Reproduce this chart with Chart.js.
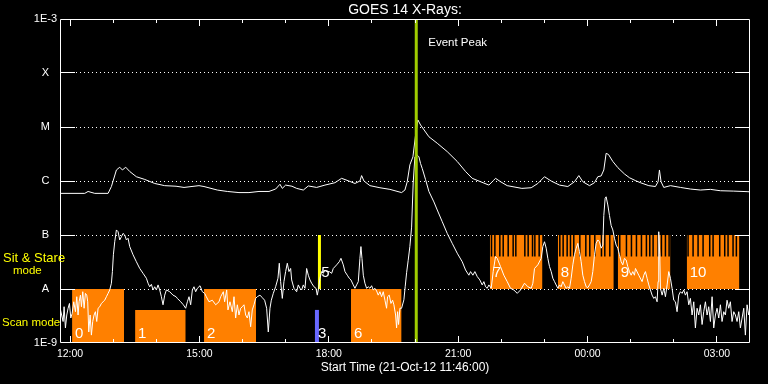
<!DOCTYPE html>
<html>
<head>
<meta charset="utf-8">
<script src="https://cdn.jsdelivr.net/npm/chart.js@4"></script>
<style>
  html, body { margin: 0; padding: 0; background: #000; }
</style>
</head>
<body>
<canvas id="goes" width="768" height="384"></canvas>
<script>
// GOES 14 X-RAYS ----------------------------------------
// times are decimal hours from 21-Oct-12 00:00 (values past 24 are the next day)
var tStart = 11.767;
var tEnd = 27.767;
var hourTicks = [12, 13, 14, 15, 16, 17, 18, 19, 20, 21, 22, 23, 24, 25, 26, 27];
var fluxTicks = [1e-9, 1e-8, 1e-7, 1e-6, 1e-5, 1e-4, 1e-3];
var fluxLabels = ['1E-9', 'A', 'B', 'C', 'M', 'X', '1E-3'];

// 1-8 A channel (upper curve)
var longTime = [
  11.77, 12.341, 12.418, 12.573, 12.882, 12.959, 13.075, 13.152, 13.214, 13.291,
  13.384, 13.538, 13.731, 13.963, 14.195, 14.458, 14.643, 14.990, 15.106, 15.415,
  15.647, 15.917, 16.149, 16.381, 16.613, 16.767, 16.868, 16.922, 16.999, 17.146,
  17.254, 17.409, 17.525, 17.718, 17.911, 18.143, 18.297, 18.452, 18.606, 18.722,
  18.761, 18.815, 18.954, 19.186, 19.417, 19.688, 19.765, 19.819, 19.881, 19.951,
  20.012, 20.066, 20.128, 20.321, 20.515, 20.746, 20.978, 21.171, 21.326, 21.519,
  21.712, 21.812, 21.866, 21.982, 22.137, 22.477, 22.693, 22.847, 23.002, 23.156,
  23.350, 23.543, 23.697, 23.798, 23.890, 24.045, 24.161, 24.238, 24.315, 24.377,
  24.431, 24.485, 24.586, 24.702, 24.856, 24.972, 25.119, 25.226, 25.420, 25.574,
  25.636, 25.667, 25.705, 25.767, 25.922, 26.154, 26.385, 26.617, 26.849, 27.080,
  27.390, 27.699, 27.767
];
var longFlux = [
  5.9e-7, 5.9e-7, 6.4e-7, 5.9e-7, 5.9e-7, 7.9e-7, 1.6e-6, 1.8e-6, 1.6e-6, 1.8e-6,
  1.5e-6, 1.2e-6, 1.07e-6, 9.0e-7, 8.2e-7, 8.0e-7, 7.6e-7, 8.2e-7, 7.9e-7, 6.8e-7,
  6.4e-7, 6.1e-7, 6.1e-7, 6.4e-7, 6.4e-7, 7.1e-7, 8.7e-7, 7.3e-7, 8.4e-7, 8.0e-7,
  7.3e-7, 6.8e-7, 8.1e-7, 7.6e-7, 8.4e-7, 9.3e-7, 1.12e-6, 1.01e-6, 9.0e-7, 1.0e-6,
  1.26e-6, 1.0e-6, 8.2e-7, 7.5e-7, 7.0e-7, 6.1e-7, 6.8e-7, 9.7e-7, 2.0e-6, 2.8e-6,
  7.1e-6, 1.35e-5, 1.09e-5, 6.6e-6, 5.0e-6, 3.5e-6, 2.3e-6, 1.5e-6, 1.12e-6, 9.7e-7,
  8.4e-7, 1.01e-6, 1.12e-6, 9.7e-7, 8.2e-7, 7.3e-7, 7.5e-7, 9.0e-7, 1.2e-6, 1.0e-6,
  8.4e-7, 7.9e-7, 9.7e-7, 1.26e-6, 9.7e-7, 8.2e-7, 9.3e-7, 1.2e-6, 1.24e-6, 1.6e-6,
  3.25e-6, 3.1e-6, 2.3e-6, 1.77e-6, 1.35e-6, 1.15e-6, 1.01e-6, 9.3e-7, 8.2e-7, 7.9e-7,
  9.7e-7, 1.6e-6, 9.7e-7, 7.6e-7, 8.2e-7, 7.6e-7, 7.1e-7, 6.8e-7, 7.0e-7, 6.6e-7,
  6.5e-7, 6.35e-7, 6.3e-7
];

// 0.5-4 A channel (lower curve)
var shortTime = [
  11.77, 11.839, 11.862, 11.893, 11.924, 11.955, 11.986, 12.017, 12.047, 12.086,
  12.125, 12.156, 12.186, 12.210, 12.241, 12.264, 12.295, 12.326, 12.356, 12.387,
  12.410, 12.434, 12.465, 12.495, 12.526, 12.557, 12.588, 12.619, 12.650, 12.689,
  12.727, 12.766, 12.804, 12.843, 12.882, 12.920, 12.959, 12.982, 13.005, 13.036,
  13.075, 13.114, 13.152, 13.191, 13.229, 13.268, 13.307, 13.345, 13.384, 13.461,
  13.538, 13.616, 13.693, 13.770, 13.809, 13.847, 13.886, 13.925, 13.963, 14.002,
  14.041, 14.079, 14.118, 14.156, 14.195, 14.234, 14.311, 14.388, 14.458, 14.488,
  14.566, 14.627, 14.681, 14.720, 14.759, 14.797, 14.836, 14.874, 14.913, 14.952,
  15.014, 15.068, 15.122, 15.160, 15.222, 15.299, 15.377, 15.454, 15.493, 15.554,
  15.585, 15.632, 15.662, 15.709, 15.763, 15.802, 15.840, 15.879, 15.917, 15.956,
  15.995, 16.033, 16.072, 16.111, 16.149, 16.188, 16.226, 16.265, 16.304, 16.342,
  16.404, 16.458, 16.512, 16.559, 16.597, 16.636, 16.667, 16.713, 16.767, 16.821,
  16.852, 16.883, 16.922, 16.960, 16.999, 17.038, 17.076, 17.115, 17.139, 17.193,
  17.254, 17.293, 17.332, 17.370, 17.409, 17.448, 17.486, 17.525, 17.564, 17.602,
  17.656, 17.703, 17.733, 17.764, 17.795, 17.834, 17.872, 17.911, 17.950, 18.012,
  18.066, 18.104, 18.182, 18.243, 18.282, 18.336, 18.375, 18.429, 18.475, 18.514,
  18.568, 18.606, 18.645, 18.684, 18.722, 18.745, 18.769, 18.800, 18.838, 18.877,
  18.915, 18.954, 18.993, 19.031, 19.070, 19.109, 19.147, 19.186, 19.224, 19.263,
  19.302, 19.340, 19.363, 19.402, 19.441, 19.479, 19.510, 19.549, 19.572, 19.595,
  19.618, 19.649, 19.688, 19.741, 19.771, 19.804, 19.841, 19.880, 19.920, 19.957,
  19.996, 20.054, 20.090, 20.128, 20.167, 20.244, 20.321, 20.437, 20.515, 20.630,
  20.746, 20.862, 20.978, 21.094, 21.171, 21.248, 21.287, 21.341, 21.387, 21.442,
  21.503, 21.557, 21.596, 21.635, 21.673, 21.712, 21.766, 21.812, 21.866, 21.905,
  21.982, 22.059, 22.137, 22.214, 22.291, 22.369, 22.446, 22.538, 22.616, 22.693,
  22.732, 22.770, 22.847, 22.925, 22.963, 23.002, 23.041, 23.079, 23.118, 23.157,
  23.195, 23.234, 23.311, 23.350, 23.388, 23.427, 23.504, 23.543, 23.581, 23.620,
  23.659, 23.697, 23.736, 23.775, 23.813, 23.852, 23.890, 23.929, 23.968, 24.006,
  24.045, 24.084, 24.122, 24.161, 24.199, 24.238, 24.277, 24.315, 24.354, 24.377,
  24.408, 24.431, 24.470, 24.508, 24.547, 24.586, 24.624, 24.663, 24.702, 24.740,
  24.779, 24.817, 24.856, 24.895, 24.933, 24.972, 25.011, 25.049, 25.088, 25.111,
  25.188, 25.265, 25.304, 25.342, 25.381, 25.420, 25.497, 25.536, 25.574, 25.613,
  25.636, 25.651, 25.675, 25.690, 25.729, 25.767, 25.806, 25.845, 25.883, 25.922,
  25.960, 25.999, 26.038, 26.076, 26.115, 26.154, 26.192, 26.231, 26.269, 26.308,
  26.347, 26.385, 26.424, 26.463, 26.501, 26.540, 26.578, 26.617, 26.656, 26.694,
  26.733, 26.772, 26.810, 26.849, 26.888, 26.926, 26.965, 27.003, 27.042, 27.081,
  27.119, 27.158, 27.196, 27.235, 27.274, 27.312, 27.351, 27.390, 27.428, 27.467,
  27.506, 27.544, 27.583, 27.622, 27.660, 27.699, 27.737, 27.767
];
var shortFlux = [
  4.4e-9, 2.5e-9, 4.7e-9, 1.9e-9, 3.3e-9, 4.4e-9, 5.4e-9, 2.9e-9, 3.5e-9, 5.8e-9,
  3.8e-9, 7.2e-9, 3.3e-9, 5.8e-9, 7.7e-9, 4.7e-9, 8.9e-9, 4.4e-9, 8.3e-9, 7.7e-9,
  5.8e-9, 1.6e-9, 3.3e-9, 1.4e-9, 2.5e-9, 3.3e-9, 3.8e-9, 2.5e-9, 4.4e-9, 4.7e-9,
  5.4e-9, 5.8e-9, 6.2e-9, 7.2e-9, 8.3e-9, 9.6e-9, 1.28e-8, 2.1e-8, 4.3e-8, 7.5e-8,
  1.24e-7, 1.15e-7, 8.1e-8, 9.3e-8, 1.07e-7, 1.0e-7, 8.1e-8, 8.7e-8, 6.1e-8, 4.3e-8,
  3.2e-8, 2.4e-8, 1.95e-8, 1.58e-8, 1.28e-8, 1.1e-8, 1.22e-8, 9.6e-9, 1.1e-8, 9.6e-9,
  1.19e-8, 9.6e-9, 7.2e-9, 5.1e-9, 7.7e-9, 9.6e-9, 8.9e-9, 7.7e-9, 7.2e-9, 6.7e-9,
  5.8e-9, 5.1e-9, 4.4e-9, 5.8e-9, 7.2e-9, 5.1e-9, 9.6e-9, 1.1e-8, 8.9e-9, 1.03e-8,
  1.15e-8, 8.9e-9, 8.3e-9, 7.2e-9, 5.8e-9, 6.2e-9, 5.1e-9, 5.8e-9, 7.2e-9, 8.9e-9,
  5.8e-9, 9.6e-9, 4.1e-9, 5.8e-9, 3.8e-9, 7.2e-9, 2.9e-9, 5.1e-9, 3.3e-9, 4.4e-9,
  4.7e-9, 5.1e-9, 3.3e-9, 2.9e-9, 3.8e-9, 2.0e-9, 4.1e-9, 5.1e-9, 6.7e-9, 7.2e-9,
  7.7e-9, 6.9e-9, 6.2e-9, 4.4e-9, 1.6e-9, 4.4e-9, 6.2e-9, 8.3e-9, 1.1e-8, 1.58e-8,
  3.0e-8, 1.37e-8, 6.7e-9, 1.37e-8, 2.1e-8, 3.0e-8, 2.1e-8, 2.4e-8, 1.47e-8, 1.03e-8,
  8.9e-9, 1.19e-8, 1.03e-8, 9.6e-9, 1.19e-8, 1.03e-8, 2.4e-8, 1.8e-8, 1.47e-8, 1.28e-8,
  1.1e-8, 1.03e-8, 7.7e-9, 1.03e-8, 1.58e-8, 2.1e-8, 1.95e-8, 2.25e-8, 2.1e-8, 2.1e-8,
  1.95e-8, 2.4e-8, 2.8e-8, 3.2e-8, 3.7e-8, 2.8e-8, 2.1e-8, 1.8e-8, 1.58e-8, 1.47e-8,
  1.19e-8, 1.03e-8, 1.19e-8, 1.37e-8, 3.7e-8, 6.1e-8, 3.7e-8, 1.8e-8, 1.28e-8, 1.03e-8,
  1.1e-8, 1.03e-8, 1.15e-8, 9.6e-9, 1.03e-8, 9.2e-9, 7.7e-9, 8.9e-9, 7.2e-9, 8.9e-9,
  6.2e-9, 4.4e-9, 7.2e-9, 7.7e-9, 5.4e-9, 6.2e-9, 5.1e-9, 3.3e-9, 1.9e-9, 3.8e-9,
  2.2e-9, 4.4e-9, 4.4e-9, 6.3e-9, 1.1e-8, 2.0e-8, 3.4e-8, 6.1e-8, 1.4e-7, 9.2e-7,
  2.8e-6, 3.0e-6, 2.8e-6, 2.1e-6, 1.7e-6, 1.06e-6, 6.4e-7, 4.1e-7, 2.9e-7, 1.77e-7,
  1.07e-7, 7.0e-8, 4.6e-8, 3.2e-8, 2.25e-8, 1.8e-8, 2.1e-8, 1.8e-8, 2.1e-8, 1.7e-8,
  1.47e-8, 1.19e-8, 1.37e-8, 1.1e-8, 1.03e-8, 1.19e-8, 1.03e-8, 2.1e-8, 4.0e-8, 3.7e-8,
  2.6e-8, 1.8e-8, 1.37e-8, 1.03e-8, 9.6e-9, 8.3e-9, 9.6e-9, 1.28e-8, 1.1e-8, 1.03e-8,
  1.28e-8, 2.4e-8, 2.8e-8, 3.7e-8, 6.1e-8, 7.5e-8, 5.7e-8, 3.7e-8, 2.6e-8, 2.1e-8,
  1.58e-8, 1.37e-8, 1.03e-8, 1.19e-8, 1.1e-8, 1.37e-8, 1.03e-8, 1.1e-8, 1.03e-8, 1.58e-8,
  2.8e-8, 4.3e-8, 5.7e-8, 7.0e-8, 4.9e-8, 3.2e-8, 1.8e-8, 1.37e-8, 1.1e-8, 1.06e-8,
  1.19e-8, 1.37e-8, 2.1e-8, 4.3e-8, 7.0e-8, 8.1e-8, 7.5e-8, 5.7e-8, 6.5e-8, 2.3e-7,
  4.8e-7, 5.1e-7, 3.6e-7, 2.3e-7, 1.5e-7, 1.24e-7, 8.7e-8, 6.5e-8, 5.7e-8, 4.3e-8,
  3.2e-8, 2.8e-8, 3.7e-8, 3.45e-8, 2.6e-8, 2.1e-8, 1.8e-8, 2.1e-8, 1.8e-8, 2.4e-8,
  1.8e-8, 1.37e-8, 1.8e-8, 2.1e-8, 1.58e-8, 1.19e-8, 7.7e-9, 6.7e-9, 7.2e-9, 5.8e-9,
  1.37e-8, 1.15e-7, 4.3e-8, 1.03e-8, 7.7e-9, 1.03e-8, 7.2e-9, 1.19e-8, 2.1e-8, 1.58e-8,
  1.03e-8, 6.2e-9, 5.8e-9, 3.8e-9, 7.7e-9, 8.9e-9, 8.3e-9, 9.6e-9, 7.7e-9, 8.9e-9,
  5.1e-9, 6.7e-9, 3.3e-9, 5.8e-9, 1.9e-9, 4.4e-9, 3.3e-9, 5.1e-9, 2.2e-9, 3.8e-9,
  5.8e-9, 3.3e-9, 4.7e-9, 2.5e-9, 7.2e-9, 1.9e-9, 3.3e-9, 4.4e-9, 2.9e-9, 5.1e-9,
  2.5e-9, 3.8e-9, 3.3e-9, 6.2e-9, 4.4e-9, 5.8e-9, 2.5e-9, 3.8e-9, 3.3e-9, 2.5e-9,
  3.8e-9, 1.9e-9, 2.9e-9, 4.4e-9, 1.4e-9, 5.1e-9, 3.3e-9, 4.4e-9
];

// scan mode blocks (orange, from 1E-9 up)
var scanStart = [12.048, 13.508, 15.107, 18.514];
var scanEnd = [13.253, 14.682, 16.312, 19.688];
var scanTop = [1e-8, 4.1e-9, 1e-8, 1e-8];
// sit & stare blocks (orange, A to B) and the black exposure marks in them
var stareStart = [21.735, 23.311, 24.701, 26.300];
var stareEnd = [22.955, 24.608, 25.922, 27.521];
var stareMarks = [
  21.773, 21.851, 21.966, 22.044, 22.160, 22.275, 22.337, 22.546, 22.623, 22.724, 22.778, 22.878,
  23.357, 23.434, 23.527, 23.604, 23.681, 23.821, 23.960, 24.052, 24.168, 24.323, 24.400, 24.516,
  24.747, 24.902, 25.018, 25.134, 25.250, 25.365, 25.443, 25.520, 25.636, 25.713, 25.806, 25.891,
  26.331, 26.447, 26.563, 26.679, 26.833, 26.911, 27.065, 27.181, 27.258, 27.374, 27.451
];
var markBottom = 4e-8;
// single short rasters: 3 (scan, blue) and 5 (sit & stare, yellow)
var raster3Time = 17.725;
var raster3Top = 4.1e-9;
var raster5Time = 17.783;
var eventPeakTime = 20.028;

var blockLabels = ['0', '1', '2', '3', '5', '6', '7', '8', '9', '10'];
var blockLabelTime = [12.048, 13.508, 15.107, 17.679, 17.756, 18.514, 21.735, 23.311, 24.701, 26.300];
var blockLabelFlux = [1.5e-9, 1.5e-9, 1.5e-9, 1.5e-9, 2e-8, 1.5e-9, 2e-8, 2e-8, 2e-8, 2e-8];

var ORANGE = '#ff8000';
var FONT = "'Liberation Sans', Arial, sans-serif";

function pts(t, f) {
  return t.map(function (v, i) { return { x: v, y: f[i] }; });
}
function block(s, e, lo, hi, col) {
  return {
    data: [{ x: s, y: hi }, { x: e, y: hi }],
    fill: { value: lo },
    backgroundColor: col,
    borderColor: 'rgba(0,0,0,0)',
    borderWidth: 0,
    order: 6
  };
}
function hh(v) {
  var h = v % 24;
  return (h < 10 ? '0' : '') + h + ':00';
}

var datasets = [];
scanStart.forEach(function (s, i) {
  datasets.push(block(s, scanEnd[i], 1e-9, scanTop[i], ORANGE));
});
stareStart.forEach(function (s, i) {
  datasets.push(block(s, stareEnd[i], 1e-8, 1e-7, ORANGE));
});
var markPts = [];
stareMarks.forEach(function (t) {
  markPts.push({ x: t, y: 1e-7 }, { x: t, y: markBottom }, { x: t, y: null });
});
datasets.push({ data: markPts, borderColor: '#000', borderWidth: 1.5, order: 5 });
datasets.push({ data: [{ x: raster3Time, y: 1e-9 }, { x: raster3Time, y: raster3Top }], borderColor: '#6868ff', borderWidth: 4, order: 4 });
datasets.push({ data: [{ x: raster5Time, y: 1e-8 }, { x: raster5Time, y: 1e-7 }], borderColor: '#ffff00', borderWidth: 3, order: 4 });
datasets.push({ data: pts(longTime, longFlux), borderColor: '#fff', borderWidth: 1, order: 2 });
datasets.push({ data: pts(shortTime, shortFlux), borderColor: '#fff', borderWidth: 1, order: 2 });
datasets.push({ data: [{ x: eventPeakTime, y: 1e-9 }, { x: eventPeakTime, y: 1e-3 }], borderColor: '#a0cc00', borderWidth: 3, order: 0 });

function al(p) { return Math.round(p - 0.5) + 0.5; }

var goesDecor = {
  id: 'goesDecor',
  afterDatasetsDraw: function (chart) {
    var ctx = chart.ctx, a = chart.chartArea;
    var xs = chart.scales.x, ys = chart.scales.y;
    ctx.save();
    ctx.strokeStyle = '#fff';
    ctx.lineWidth = 1;
    ctx.beginPath();
    // frame
    ctx.rect(a.left + 0.5, a.top + 0.5, a.right - a.left - 1, a.bottom - a.top - 1);
    // inward hour ticks top and bottom
    hourTicks.forEach(function (h) {
      var px = al(xs.getPixelForValue(h));
      var len = h % 3 === 0 ? 7 : 4;
      ctx.moveTo(px, a.bottom); ctx.lineTo(px, a.bottom - len);
      ctx.moveTo(px, a.top); ctx.lineTo(px, a.top + len);
    });
    // solid ends of the class lines
    fluxTicks.slice(1, 6).forEach(function (v) {
      var py = al(ys.getPixelForValue(v));
      ctx.moveTo(a.left, py); ctx.lineTo(a.left + 15, py);
      ctx.moveTo(a.right - 15, py); ctx.lineTo(a.right, py);
    });
    ctx.stroke();

    // block numbers
    ctx.fillStyle = '#fff';
    ctx.textBaseline = 'middle';
    ctx.textAlign = 'left';
    ctx.font = '15px ' + FONT;
    blockLabels.forEach(function (t, i) {
      ctx.fillText(t, xs.getPixelForValue(blockLabelTime[i]) + 3, ys.getPixelForValue(blockLabelFlux[i]));
    });

    // event peak
    ctx.font = '11.5px ' + FONT;
    ctx.fillText('Event Peak', xs.getPixelForValue(eventPeakTime) + 12, a.top + 24);

    // title
    ctx.font = '14px ' + FONT;
    ctx.textAlign = 'center';
    ctx.fillText('GOES 14 X-Rays:', (a.left + a.right) / 2, a.top - 9);

    // mode names
    ctx.fillStyle = '#ffff00';
    ctx.textAlign = 'left';
    ctx.font = '13px ' + FONT;
    ctx.fillText('Sit & Stare', 3, ys.getPixelForValue(3.75e-8));
    ctx.font = '11.5px ' + FONT;
    ctx.fillText('mode', 13, ys.getPixelForValue(2.15e-8));
    ctx.fillText('Scan mode', 2, ys.getPixelForValue(2.35e-9));
    ctx.restore();
  }
};

var chart = new Chart(document.getElementById('goes'), {
  type: 'line',
  data: { datasets: datasets },
  options: {
    responsive: false,
    animation: false,
    devicePixelRatio: 1,
    layout: { padding: { top: 19, right: 18, left: 0, bottom: 0 } },
    elements: { point: { radius: 0 }, line: { tension: 0 } },
    plugins: { legend: { display: false }, tooltip: { enabled: false } },
    scales: {
      x: {
        type: 'linear',
        min: tStart,
        max: tEnd,
        afterBuildTicks: function (s) { s.ticks = hourTicks.map(function (h) { return { value: h }; }); },
        afterFit: function (s) { s.height = 41; },
        grid: { display: false, drawTicks: false },
        border: { display: false },
        ticks: {
          color: '#fff',
          font: { family: FONT, size: 10.5 },
          padding: 5,
          autoSkip: false,
          maxRotation: 0,
          minRotation: 0,
          callback: function (v) { return v % 3 === 0 ? hh(v) : ''; }
        },
        title: {
          display: true,
          text: 'Start Time (21-Oct-12 11:46:00)',
          color: '#fff',
          font: { family: FONT, size: 12 },
          padding: { top: 0, bottom: 9 }
        }
      },
      y: {
        type: 'logarithmic',
        min: 1e-9,
        max: 1e-3,
        afterBuildTicks: function (s) { s.ticks = fluxTicks.map(function (v) { return { value: v }; }); },
        afterFit: function (s) { s.width = 60; },
        grid: {
          color: function (c) { return (c.index > 0 && c.index < 6) ? '#fff' : 'rgba(0,0,0,0)'; },
          drawTicks: false,
          lineWidth: 1
        },
        border: { display: false, dash: [1, 3] },
        ticks: {
          color: '#fff',
          font: { family: FONT, size: 11 },
          padding: 3,
          crossAlign: 'center',
          autoSkip: false,
          callback: function (v, i) { return fluxLabels[i]; }
        }
      }
    }
  },
  plugins: [goesDecor]
});
</script>
</body>
</html>
